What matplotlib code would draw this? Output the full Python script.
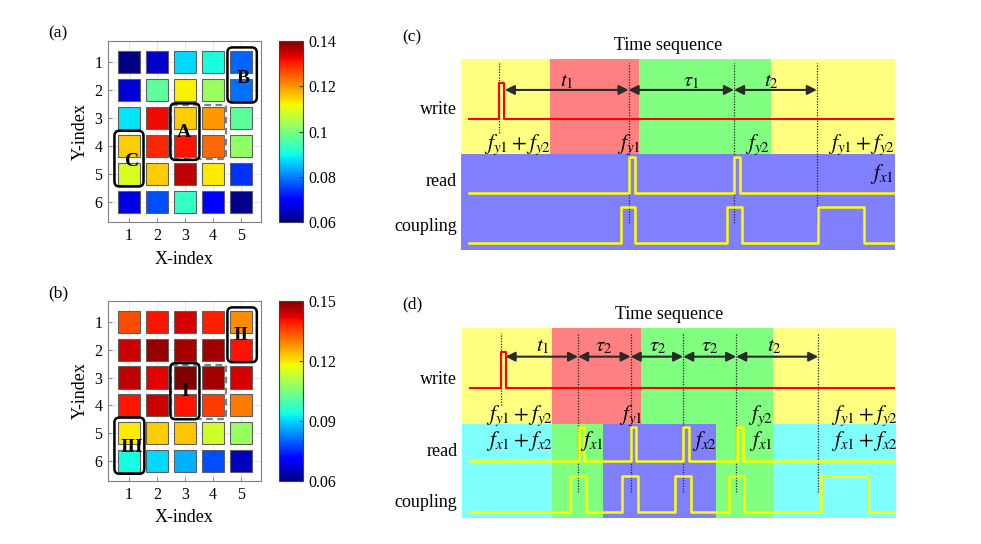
import matplotlib
matplotlib.use("Agg")
import matplotlib.pyplot as plt
import numpy as np
from matplotlib.patches import Rectangle, FancyBboxPatch
from matplotlib.colors import Normalize
from matplotlib.cm import ScalarMappable

plt.rcParams['font.family'] = ['Liberation Serif', 'DejaVu Serif']
plt.rcParams['mathtext.fontset'] = 'stix'

# ---------------- data ----------------
x_index = [1, 2, 3, 4, 5]
y_index = [1, 2, 3, 4, 5, 6]

vals_a = [
    [0.0605, 0.065, 0.087, 0.0905, 0.078],
    [0.066, 0.097, 0.1125, 0.103, 0.079],
    [0.088, 0.132, 0.1155, 0.120, 0.097],
    [0.1155, 0.1296, 0.131, 0.124, 0.102],
    [0.109, 0.1155, 0.1356, 0.113, 0.074],
    [0.067, 0.076, 0.093, 0.069, 0.061],
]
vals_b = [
    [0.1346, 0.140, 0.143, 0.139, 0.1285],
    [0.144, 0.148, 0.147, 0.1475, 0.140],
    [0.145, 0.142, 0.1495, 0.147, 0.143],
    [0.1395, 0.144, 0.140, 0.136, 0.130],
    [0.1195, 0.1225, 0.123, 0.114, 0.108],
    [0.094, 0.0904, 0.087, 0.078, 0.065],
]
cbar_a_ticks = [0.06, 0.08, 0.10, 0.12, 0.14]
cbar_a_labels = ['0.06', '0.08', '0.1', '0.12', '0.14']
cbar_b_ticks = [0.06, 0.09, 0.12, 0.15]
cbar_b_labels = ['0.06', '0.09', '0.12', '0.15']

# groups: (label, x0, x1, y0, y1, label_x, label_y)
groups_a = [('B', 4.52, 5.57, 0.48, 2.45, 5.08, 1.58),
            ('A', 2.48, 3.52, 2.48, 4.50, 2.95, 3.52),
            ('C', 0.48, 1.52, 3.46, 5.45, 1.10, 4.56)]
groups_b = [('II', 4.52, 5.57, 0.48, 2.45, 5.00, 1.50),
            ('I', 2.48, 3.52, 2.48, 4.50, 3.00, 3.50),
            ('III', 0.48, 1.55, 4.44, 6.46, 1.10, 5.51)]
dashed_box = (2.50, 4.47, 2.55, 4.48)

# timing diagrams (time in arbitrary units 0..100)
c_top_bands = [(0, 20.5, '#FFFF80'), (20.5, 41.0, '#FF8080'), (41.0, 71.4, '#80FF80'), (71.4, 100, '#FFFF80')]
c_bot_bands = [(0, 100, '#8080FF')]
c_write_pulses = [(8.8, 10.0)]
c_read_pulses = [(38.6, 40.1), (62.9, 64.3)]
c_coup_pulses = [(36.8, 40.2), (61.4, 64.8), (82.3, 92.9)]
c_marks = [38.6, 62.9, 82.0]
c_write_mark = 8.8
c_arrows = [(10.1, 38.6), (38.6, 62.9), (62.9, 82.0)]
c_arrow_labels = [(r'$t_1$', 24.3), (r'$\tau_1$', 53.0), (r'$t_2$', 71.6)]
c_freq_labels = [(r'$f_{y1}+f_{y2}$', 13.0, 55.0), (r'$f_{y1}$', 38.7, 55.0),
                 (r'$f_{y2}$', 68.2, 55.0), (r'$f_{y1}+f_{y2}$', 92.4, 55.0),
                 (r'$f_{x1}$', 97.0, 39.8)]

d_top_bands = [(0, 20.7, '#FFFF80'), (20.7, 41.2, '#FF8080'), (41.2, 71.6, '#80FF80'), (71.6, 100, '#FFFF80')]
d_bot_bands = [(0, 20.7, '#80FFFF'), (20.7, 32.5, '#80FF80'), (32.5, 58.5, '#8080FF'),
               (58.5, 71.6, '#80FF80'), (71.6, 100, '#80FFFF')]
d_write_pulses = [(9.1, 10.1)]
d_read_pulses = [(27.0, 28.2), (38.9, 40.2), (51.0, 52.4), (63.3, 64.7)]
d_coup_pulses = [(25.0, 28.6), (36.8, 40.5), (49.1, 52.8), (61.6, 65.0), (82.7, 93.5)]
d_marks = [26.8, 38.9, 51.0, 63.2, 82.1]
d_write_mark = 9.0
d_arrows = [(10.1, 26.8), (26.8, 38.9), (38.9, 51.0), (51.0, 63.2), (63.2, 82.1)]
d_arrow_labels = [(r'$t_1$', 18.6), (r'$\tau_2$', 32.8), (r'$\tau_2$', 45.1), (r'$\tau_2$', 57.2), (r'$t_2$', 72.0)]
d_freq_labels = [(r'$f_{y1}+f_{y2}$', 13.4, 53.7), (r'$f_{x1}+f_{x2}$', 13.4, 40.7),
                 (r'$f_{x1}$', 30.0, 40.7), (r'$f_{y1}$', 38.9, 53.7),
                 (r'$f_{x2}$', 55.8, 40.7), (r'$f_{y2}$', 68.9, 53.7),
                 (r'$f_{x1}$', 68.9, 40.7), (r'$f_{y1}+f_{y2}$', 92.7, 53.7),
                 (r'$f_{x1}+f_{x2}$', 92.7, 40.7)]

W, H = 981, 544
fig = plt.figure(figsize=(W / 100, H / 100), dpi=100)


def px_axes(x0, y0, x1, y1):
    return fig.add_axes([x0 / W, 1 - y1 / H, (x1 - x0) / W, (y1 - y0) / H])


def heatmap(ax, cax, vals, vmin, vmax, ticks, ticklabels, groups):
    sm = ScalarMappable(norm=Normalize(vmin, vmax), cmap='jet')
    ax.set_xlim(0.25, 5.72)
    ax.set_ylim(6.72, 0.25)
    ax.set_axisbelow(True)
    ax.grid(True, color='#e6e6e6', lw=0.7)
    s = 0.8
    for r, yi in enumerate(y_index):
        for c, xi in enumerate(x_index):
            ax.add_patch(Rectangle((xi - s / 2, yi - s / 2), s, s,
                                   facecolor=sm.to_rgba(vals[r][c]),
                                   edgecolor='#606060', lw=0.8, zorder=2))
    dx0, dx1, dy0, dy1 = dashed_box
    ax.add_patch(Rectangle((dx0, dy0), dx1 - dx0, dy1 - dy0, fill=False,
                           edgecolor='white', lw=1.6, zorder=3))
    ax.add_patch(Rectangle((dx0, dy0), dx1 - dx0, dy1 - dy0, fill=False,
                           edgecolor='#808080', lw=1.6, ls=(0, (3, 2)), zorder=3))
    for lab, x0, x1, y0, y1, lx, ly in groups:
        ax.add_patch(FancyBboxPatch((x0, y0), x1 - x0, y1 - y0,
                                    boxstyle='round,pad=0,rounding_size=0.18',
                                    fill=False, edgecolor='black', lw=1.8, zorder=4))
        ax.text(lx, ly, lab, fontsize=14, fontweight='bold', ha='center',
                va='center', zorder=5)
    ax.set_xticks(x_index)
    ax.set_yticks(y_index)
    ax.tick_params(direction='in', length=3, color='#909090', labelsize=11.5)
    ax.tick_params(axis='x', pad=4)
    ax.tick_params(axis='y', pad=4)
    for sp in ax.spines.values():
        sp.set_color('#808080')
        sp.set_linewidth(0.8)
    ax.set_xlabel('X-index', fontsize=13, labelpad=5)
    ax.set_ylabel('Y-index', fontsize=13, labelpad=4)

    cb = fig.colorbar(sm, cax=cax, ticks=ticks)
    cb.ax.set_yticklabels(ticklabels)
    cb.ax.tick_params(direction='in', length=3, labelsize=11.5, color='#404040', pad=4)
    cb.outline.set_edgecolor('#404040')
    cb.outline.set_linewidth(0.8)


ax_a = px_axes(108, 41, 261, 222)
cax_a = px_axes(279, 41, 303, 222)
heatmap(ax_a, cax_a, vals_a, 0.06, 0.14, cbar_a_ticks, cbar_a_labels, groups_a)
ax_b = px_axes(108, 301, 261, 481)
cax_b = px_axes(279, 301, 303, 481)
heatmap(ax_b, cax_b, vals_b, 0.06, 0.15, cbar_b_ticks, cbar_b_labels, groups_b)
fig.text(48 / W, 1 - 33 / H, '(a)', fontsize=12.5, va='center', ha='left')
fig.text(48 / W, 1 - 293 / H, '(b)', fontsize=12.5, va='center', ha='left')


def step_line(pulses, x0, x1, base, top):
    xs, ys = [x0], [base]
    for s, e in pulses:
        xs += [s, s, e, e]
        ys += [base, top, top, base]
    xs.append(x1)
    ys.append(base)
    return xs, ys


def timing(ax, label, top_bands, bot_bands, split, wp, rp, cp, marks, wmark,
           arrows, alabels, flabels, lv, mark_top, mark_bot, wmark_bot,
           arrow_y, alab_y, rowlab_y, title_y, label_y):
    ax.set_xlim(0, 100)
    ax.set_ylim(0, 100)
    ax.axis('off')
    for s, e, col in top_bands:
        ax.axvspan(s, e, ymin=split / 100, ymax=1, color=col, lw=0, zorder=0)
    for s, e, col in bot_bands:
        ax.axvspan(s, e, ymin=0, ymax=split / 100, color=col, lw=0, zorder=0)
    (wb, wt), (rb, rt), (cbse, ctop) = lv
    xs, ys = step_line(wp, 1.8, 99.5, wb, wt)
    ax.plot(xs, ys, color='#FF0000', lw=1.5, zorder=3)
    xs, ys = step_line(rp, 1.8, 100, rb, rt)
    ax.plot(xs, ys, color='#FFFF00', lw=1.8, zorder=3)
    xs, ys = step_line(cp, 1.8, 100, cbse, ctop)
    ax.plot(xs, ys, color='#FFFF00', lw=1.8, zorder=3)
    ax.plot([wmark, wmark], [wmark_bot, mark_top], color='#222222', lw=0.9, ls=(0, (1, 1.2)), zorder=2)
    for m in marks:
        ax.plot([m, m], [mark_bot, mark_top], color='#222222', lw=0.9, ls=(0, (1, 1.2)), zorder=2)
    for s, e in arrows:
        ax.annotate('', xy=(e, arrow_y), xytext=(s, arrow_y),
                    arrowprops=dict(arrowstyle='<|-|>', color='#2a2a2a', lw=1.5,
                                    shrinkA=0, shrinkB=0, mutation_scale=14), zorder=4)
    for t, x in alabels:
        ax.text(x, alab_y, t, fontsize=15, ha='center', va='center', zorder=5)
    for t, x, y in flabels:
        ax.text(x, y, t, fontsize=15.5, ha='center', va='center', zorder=5)
    for t, y in zip(['write', 'read', 'coupling'], rowlab_y):
        ax.text(-1, y, t, fontsize=13, ha='right', va='center', clip_on=False)
    ax.text(47.7, title_y, 'Time sequence', fontsize=13, ha='center', va='center', clip_on=False)
    ax.text(-13.6, label_y, label, fontsize=12.5, ha='left', va='center', clip_on=False)


ax_c = px_axes(461, 59, 895, 250)
timing(ax_c, '(c)', c_top_bands, c_bot_bands, 50.3, c_write_pulses, c_read_pulses,
       c_coup_pulses, c_marks, c_write_mark, c_arrows, c_arrow_labels, c_freq_labels,
       [(68.6, 87.6), (30.0, 48.5), (3.8, 22.3)], 97.9, 14.1, 61.3,
       83.8, 88.1, [73.3, 35.8, 12.2], 107.3, 111.5)

ax_d = px_axes(461.7, 327.7, 896, 518.3)
timing(ax_d, '(d)', d_top_bands, d_bot_bands, 49.5, d_write_pulses, d_read_pulses,
       d_coup_pulses, d_marks, d_write_mark, d_arrows, d_arrow_labels, d_freq_labels,
       [(68.5, 87.1), (30.0, 48.0), (3.5, 22.2)], 97.4, 14.0, 59.5,
       84.8, 90.0, [73.0, 35.0, 8.2], 107.0, 112.0)

fig.savefig('out.png', dpi=100)
